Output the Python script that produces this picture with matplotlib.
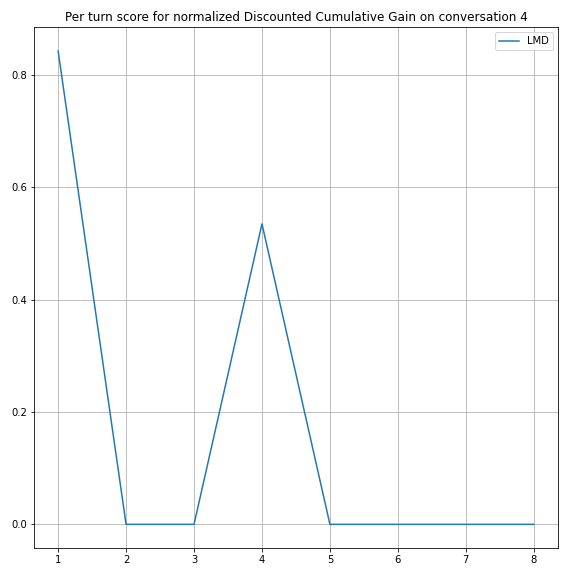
import matplotlib
matplotlib.use("Agg")
import matplotlib.pyplot as plt

# per turn nDCG values, conversation 4
turns = [1, 2, 3, 4, 5, 6, 7, 8]
lmd_scores = [0.843, 0.0, 0.0, 0.535, 0.0, 0.0, 0.0, 0.0]

fig = plt.figure(figsize=(8, 8), dpi=72)
plt.plot(turns, lmd_scores, label='LMD')
plt.title("Per turn score for normalized Discounted Cumulative Gain on conversation 4")
plt.grid(True)
plt.legend()
plt.subplots_adjust(left=0.0596, right=0.968, top=0.9526, bottom=0.0486)
plt.savefig("out.png", dpi=72, facecolor="white")
